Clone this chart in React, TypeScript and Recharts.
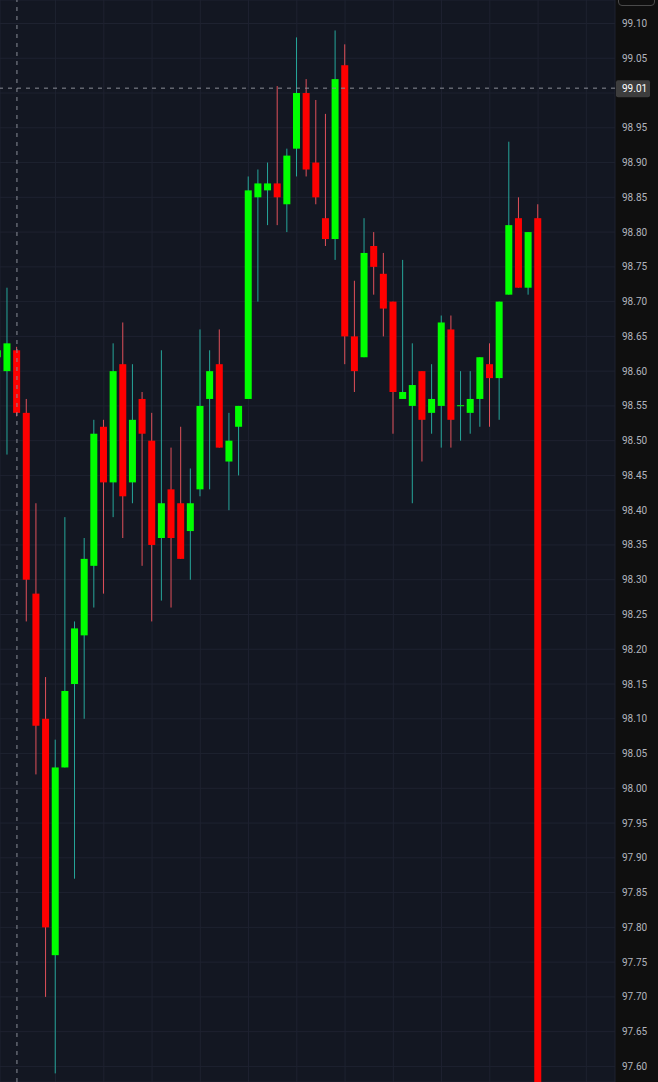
import { ComposedChart, Bar, XAxis, YAxis, CartesianGrid, ReferenceLine } from 'recharts';

// candle index (-1 is the half-hidden one at the left edge)
const candleIdx = [
  -1, 0, 1, 2, 3, 4, 5, 6, 7, 8, 9, 10, 11, 12, 13, 14, 15, 16, 17, 18, 19, 20, 21, 22, 23, 24, 25, 26, 27, 28, 29,
  30, 31, 32, 33, 34, 35, 36, 37, 38, 39, 40, 41, 42, 43, 44, 45, 46, 47, 48, 49, 50, 51, 52, 53, 54, 55,
];
const opens = [
  98.62, 98.6, 98.63, 98.54, 98.28, 98.1, 97.76, 98.03, 98.15, 98.22, 98.32, 98.52, 98.44, 98.61, 98.44, 98.56, 98.5,
  98.36, 98.43, 98.41, 98.37, 98.43, 98.56, 98.61, 98.47, 98.52, 98.56, 98.85, 98.86, 98.87, 98.84, 98.92, 99.0,
  98.9, 98.82, 98.79, 99.04, 98.65, 98.62, 98.78, 98.74, 98.7, 98.56, 98.55, 98.6, 98.54, 98.55, 98.66, 98.55, 98.54,
  98.56, 98.61, 98.59, 98.71, 98.82, 98.72, 98.82,
];
const highs = [
  98.64, 98.72, 98.635, 98.56, 98.41, 98.16, 98.07, 98.39, 98.24, 98.36, 98.53, 98.53, 98.64, 98.67, 98.61, 98.57,
  98.54, 98.63, 98.49, 98.52, 98.46, 98.66, 98.63, 98.66, 98.54, 98.55, 98.88, 98.89, 98.9, 99.01, 98.92, 99.08,
  99.02, 98.99, 98.97, 99.09, 99.07, 98.73, 98.82, 98.8, 98.77, 98.7, 98.76, 98.64, 98.6, 98.61, 98.68, 98.68, 98.6,
  98.6, 98.62, 98.64, 98.7, 98.93, 98.85, 98.8, 98.84,
];
const lows = [
  98.6, 98.48, 98.535, 98.24, 98.02, 97.7, 97.59, 98.03, 97.87, 98.1, 98.26, 98.28, 98.39, 98.36, 98.41, 98.32, 98.24,
  98.27, 98.26, 98.33, 98.3, 98.42, 98.43, 98.49, 98.4, 98.45, 98.56, 98.7, 98.81, 98.81, 98.8, 98.88, 98.88, 98.84,
  98.78, 98.76, 98.61, 98.57, 98.62, 98.71, 98.65, 98.51, 98.56, 98.41, 98.47, 98.51, 98.49, 98.49, 98.5, 98.51,
  98.52, 98.52, 98.53, 98.71, 98.72, 98.71, 97.45,
];
const closes = [
  98.63, 98.64, 98.54, 98.3, 98.09, 97.8, 98.03, 98.14, 98.23, 98.33, 98.51, 98.44, 98.6, 98.42, 98.53, 98.51, 98.35,
  98.41, 98.36, 98.33, 98.41, 98.55, 98.6, 98.49, 98.5, 98.55, 98.86, 98.87, 98.87, 98.85, 98.91, 99.0, 98.89, 98.85,
  98.79, 99.02, 98.65, 98.6, 98.77, 98.75, 98.69, 98.57, 98.57, 98.58, 98.53, 98.56, 98.67, 98.53, 98.551, 98.56,
  98.62, 98.59, 98.7, 98.81, 98.72, 98.8, 97.5,
];

const priceTicks = [
  97.6, 97.65, 97.7, 97.75, 97.8, 97.85, 97.9, 97.95, 98.0, 98.05, 98.1, 98.15, 98.2, 98.25, 98.3, 98.35, 98.4, 98.45,
  98.5, 98.55, 98.6, 98.65, 98.7, 98.75, 98.8, 98.85, 98.9, 98.95, 99.0, 99.05, 99.1,
];
const timeGridIdx = [5, 10, 15, 20, 25, 30, 35, 40, 45, 50, 55, 60];

const crossIdx = 1;
const crossPrice = 99.007;

const data = candleIdx.map((i, k) => ({
  i,
  open: opens[k],
  high: highs[k],
  low: lows[k],
  close: closes[k],
}));

const UP = '#00ff00';
const DOWN = '#ff0000';
const WICK_UP = '#26a69a';
const WICK_DOWN = '#e0505a';

function Candle(props: any) {
  const { x, y, width, height, payload } = props;
  const { open, close, high, low } = payload;
  const top = Math.min(y, y + height);
  const span = Math.abs(height);
  const ppu = span / (high - low);
  const py = (v: number) => top + (high - v) * ppu;
  const cx = x + width / 2;
  const up = close >= open;
  const bodyTop = py(Math.max(open, close));
  const bodyH = Math.max(1, py(Math.min(open, close)) - bodyTop);
  return (
    <g>
      <line x1={cx} x2={cx} y1={top} y2={top + span} stroke={up ? WICK_UP : WICK_DOWN} strokeWidth={1} />
      <rect x={cx - 3.5} y={bodyTop} width={7} height={bodyH} fill={up ? UP : DOWN} />
    </g>
  );
}

function PriceTick(props: any) {
  const { x, y, payload } = props;
  if (payload.value === 99) return <g />;
  return (
    <text x={x} y={y} dy={3.5} textAnchor="start" fontSize={10} fontFamily="Roboto" fill="#b2b5be">
      {payload.value.toFixed(2)}
    </text>
  );
}

function PriceTag(props: any) {
  const { x, y, width } = props.viewBox;
  const left = x + width + 1;
  return (
    <g>
      <rect x={left} y={y - 8} width={34} height={17} rx={2} fill="#3d3d3d" />
      <text x={left + 6} y={y} dy={3.5} textAnchor="start" fontSize={10} fontFamily="Roboto" fill="#ffffff">
        {crossPrice.toFixed(2)}
      </text>
    </g>
  );
}

export default function App() {
  return (
    <div
      style={{
        position: 'absolute',
        left: 0,
        top: 0,
        width: 658,
        height: 1082,
        overflow: 'hidden',
        background: '#0f0f0f',
      }}
    >
      <ComposedChart width={658} height={1082} data={data} margin={{ top: 0, right: 0, bottom: 0, left: 0 }}>
        <CartesianGrid stroke="#1e2230" fill="#131722" />
        <XAxis
          type="number"
          dataKey="i"
          domain={[-0.756, 62.97]}
          allowDataOverflow
          ticks={timeGridIdx}
          hide
        />
        <YAxis
          orientation="right"
          width={43}
          domain={[97.5776, 99.1338]}
          allowDataOverflow
          ticks={priceTicks}
          interval={0}
          axisLine={false}
          tickLine={false}
          tickMargin={1}
          tick={<PriceTick />}
        />
        <Bar
          dataKey={(d: any) => [d.low, d.high]}
          barSize={7}
          shape={<Candle />}
          isAnimationActive={false}
        />
        <ReferenceLine x={crossIdx} stroke="#8a8d96" strokeDasharray="4 5" />
        <ReferenceLine y={crossPrice} stroke="#8a8d96" strokeDasharray="4 5" label={<PriceTag />} />
      </ComposedChart>
      <div
        style={{
          position: 'absolute',
          left: 618,
          top: -20,
          width: 35,
          height: 24,
          border: '1px solid #4a4a4a',
          borderRadius: 4,
        }}
      />
    </div>
  );
}
